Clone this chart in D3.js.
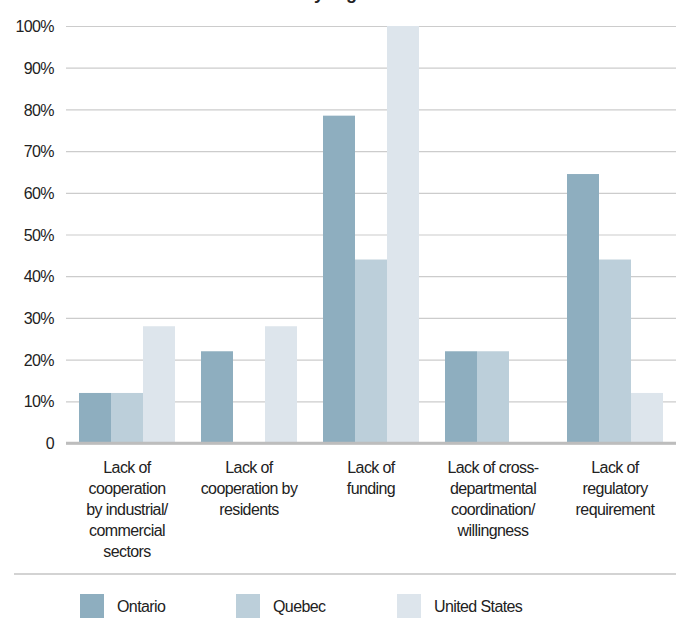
<!DOCTYPE html>
<html>
<head>
<meta charset="utf-8">
<script src="https://cdn.jsdelivr.net/npm/d3@7"></script>
<style>
  html, body { margin: 0; padding: 0; background: #fff; }
  svg { display: block; }
  text { font-family: "Liberation Sans", Arial, sans-serif; fill: #222; }
</style>
</head>
<body>
<svg id="chart" width="680" height="628"></svg>
<script>
// Barriers reported, share of respondents by region
const categories = [
  ["Lack of", "cooperation", "by industrial/", "commercial", "sectors"],
  ["Lack of", "cooperation by", "residents"],
  ["Lack of", "funding"],
  ["Lack of cross-", "departmental", "coordination/", "willingness"],
  ["Lack of", "regulatory", "requirement"]
];
const seriesNames = ["Ontario", "Quebec", "United States"];
const ontario = [12, 22, 78.5, 22, 64.5];
const quebec = [12, 0, 44, 22, 44];
const unitedStates = [28, 28, 100, 0, 12];
const yTicks = [0, 10, 20, 30, 40, 50, 60, 70, 80, 90, 100];
const colors = ["#8eaebf", "#bccfda", "#dde5ec"];

const series = [ontario, quebec, unitedStates];
const svg = d3.select("#chart");
const fontFamily = "'Liberation Sans', Arial, sans-serif";
const fontSize = "16px";
const tracking = "-0.6px";

const plotLeft = 66, plotRight = 676, plotTop = 26, plotBottom = 443;
const catIdx = d3.range(categories.length);

const x0 = d3.scaleBand().domain(catIdx).range([plotLeft, plotRight])
  .paddingInner(26 / 122).paddingOuter(13 / 122);
const x1 = d3.scaleBand().domain(d3.range(seriesNames.length)).range([0, x0.bandwidth()]);
const y = d3.scaleLinear().domain([0, 100]).range([plotBottom, plotTop]);

// Title (partly above the visible area)
svg.append("text")
  .attr("x", 303).attr("y", -1)
  .style("font-size", "18px").style("font-weight", "bold")
  .text("by region");

// Gridlines and percentage ticks
const yAxis = d3.axisLeft(y).tickValues(yTicks)
  .tickSize(-(plotRight - plotLeft))
  .tickFormat(d => d === 0 ? "0" : d + "%")
  .tickPadding(12);
const gy = svg.append("g").attr("transform", `translate(${plotLeft},0)`).call(yAxis);
gy.select(".domain").remove();
gy.selectAll(".tick line")
  .attr("stroke", d => d === 0 ? "#bdbdbd" : "#cccccc")
  .attr("stroke-width", d => d === 0 ? 2.5 : 1.2);
gy.selectAll(".tick text")
  .attr("fill", "#222")
  .style("font-size", fontSize)
  .style("font-family", fontFamily)
  .style("letter-spacing", tracking)
  .attr("dy", "0.35em");

// Bars
const groups = svg.append("g").selectAll("g").data(catIdx).join("g")
  .attr("transform", i => `translate(${x0(i)},0)`);
groups.selectAll("rect")
  .data(i => series.map((s, k) => ({ k, v: s[i] })))
  .join("rect")
  .attr("x", d => x1(d.k))
  .attr("width", x1.bandwidth())
  .attr("y", d => y(d.v))
  .attr("height", d => plotBottom - y(d.v))
  .attr("fill", d => colors[d.k]);

// Zero line drawn over the bars
svg.append("line")
  .attr("x1", plotLeft).attr("x2", plotRight)
  .attr("y1", y(0)).attr("y2", y(0))
  .attr("stroke", "#bdbdbd").attr("stroke-width", 2.5);

// Category labels
const labels = svg.append("g").selectAll("text").data(catIdx).join("text")
  .attr("text-anchor", "middle")
  .style("font-size", fontSize)
  .style("letter-spacing", tracking)
  .attr("x", i => x0(i) + x0.bandwidth() / 2)
  .attr("y", 473);
labels.selectAll("tspan").data(i => categories[i]).join("tspan")
  .attr("x", function () { return d3.select(this.parentNode).attr("x"); })
  .attr("dy", (d, j) => j === 0 ? 0 : 21)
  .text(d => d);

// Separator
svg.append("line")
  .attr("x1", 14).attr("x2", 676).attr("y1", 574).attr("y2", 574)
  .attr("stroke", "#c4c4c4").attr("stroke-width", 1.5);

// Legend
const legendX = [80, 236, 397];
const lg = svg.append("g").selectAll("g").data(seriesNames).join("g")
  .attr("transform", (d, k) => `translate(${legendX[k]},594)`);
lg.append("rect").attr("width", 24).attr("height", 24).attr("fill", (d, k) => colors[k]);
lg.append("text").attr("x", 37).attr("y", 18)
  .style("font-size", fontSize).style("letter-spacing", tracking)
  .text(d => d);
</script>
</body>
</html>
